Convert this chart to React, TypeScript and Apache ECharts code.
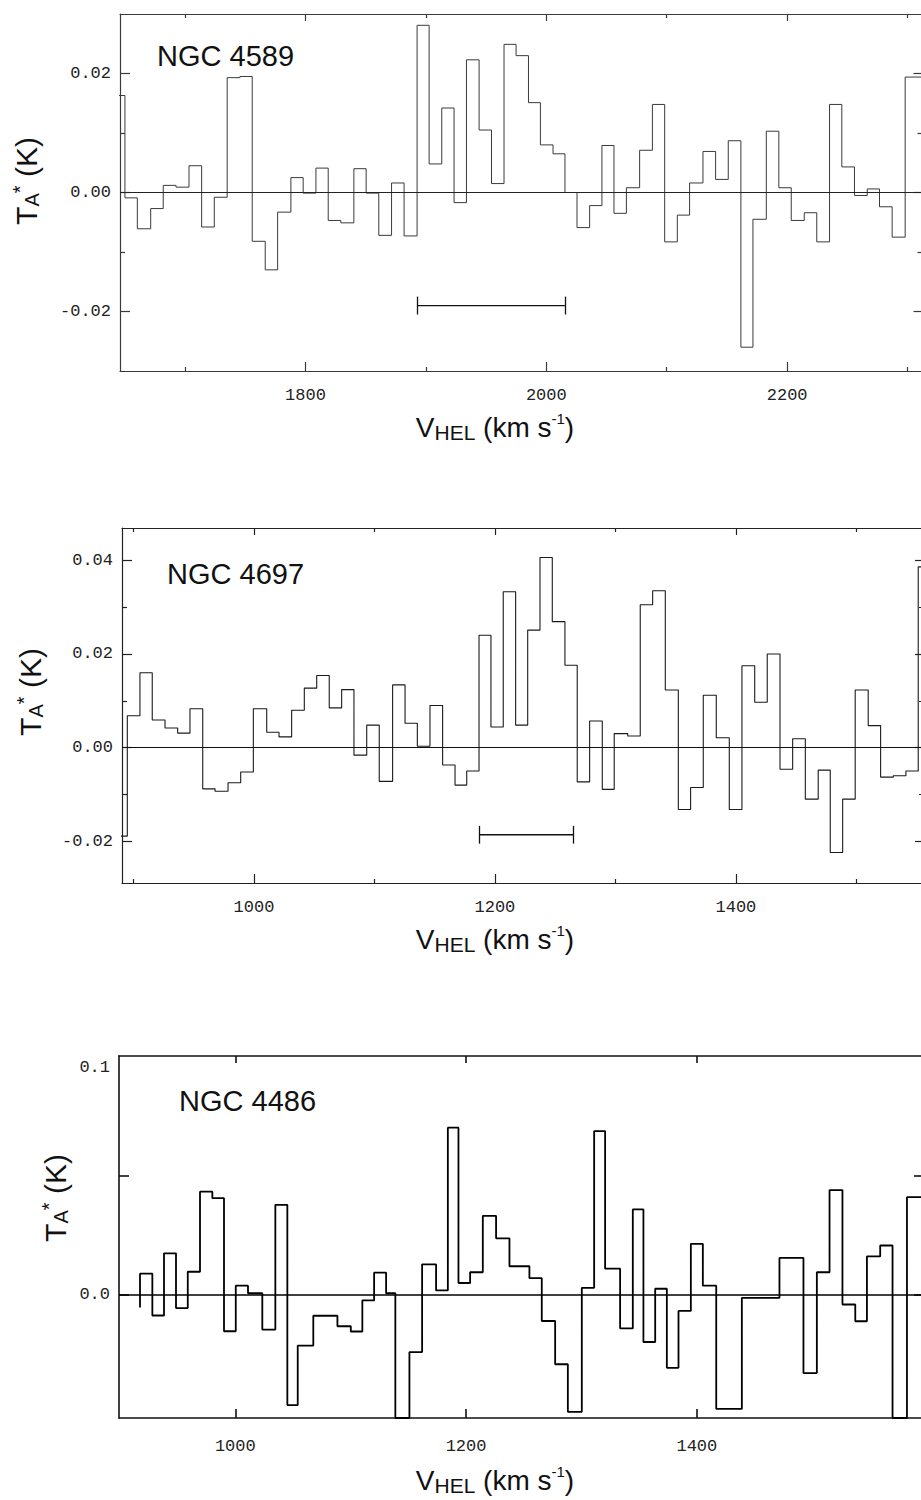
import React, { useEffect, useRef } from "react";
import * as echarts from "echarts";

// ---------------- NGC 4589 ----------------
const N4589_EDGES = [
  1640, 1650.1, 1660.4, 1671.5, 1681.9, 1692.5, 1703.3, 1713.8, 1724.3, 1735.0,
  1745.6, 1755.8, 1766.6, 1776.9, 1787.9, 1798.1, 1808.7, 1818.9, 1829.4, 1840.2,
  1850.4, 1860.9, 1871.5, 1881.9, 1892.7, 1902.7, 1913.2, 1923.4, 1933.7, 1944.2,
  1954.5, 1964.9, 1974.9, 1985.2, 1995.1, 2005.6, 2015.5, 2025.5, 2036.0, 2046.2,
  2056.2, 2066.5, 2077.5, 2088.1, 2098.3, 2108.8, 2119.0, 2130.1, 2140.6, 2151.1,
  2161.6, 2171.6, 2182.7, 2193.1, 2203.4, 2214.2, 2224.6, 2235.2, 2245.4, 2255.9,
  2266.5, 2276.7, 2287.2, 2298.0, 2312,
];
const N4589_TA = [
  0.0163, -0.0009, -0.0061, -0.0027, 0.0012, 0.0009, 0.0045, -0.0058, -0.0008, 0.0193,
  0.0195, -0.0082, -0.013, -0.0033, 0.0025, -0.0001, 0.0041, -0.0047, -0.0051, 0.004,
  -0.0001, -0.0072, 0.0016, -0.0073, 0.0281, 0.0048, 0.0142, -0.0017, 0.0223, 0.0105,
  0.0015, 0.0249, 0.023, 0.0151, 0.008, 0.0065, 0.0, -0.0059, -0.0022, 0.0079,
  -0.0035, 0.0008, 0.0071, 0.0148, -0.0083, -0.0038, 0.0016, 0.0069, 0.0022, 0.0087,
  -0.026, -0.0045, 0.0103, 0.0008, -0.0047, -0.0034, -0.0083, 0.0148, 0.0043, -0.0005,
  0.0006, -0.0024, -0.0075, 0.0194,
];
const N4589_BAR_V = [1892.7, 2015.4];
const N4589_BAR_TA = [-0.019];
const N4589_BAR_CAP = [0.0015];
const N4589_X_MAJOR = [1800, 2000, 2200];
const N4589_X_MINOR = [1700, 1900, 2100, 2300];
const N4589_Y_MAJOR = [-0.02, 0, 0.02];
const N4589_Y_MINOR = [-0.01, 0.01];

// ---------------- NGC 4697 ----------------
const N4697_EDGES = [
  880, 894.9, 905.4, 915.6, 926.2, 936.7, 946.9, 957.5, 967.7, 978.5,
  989.0, 999.5, 1010.6, 1020.8, 1031.3, 1041.8, 1052.1, 1062.5, 1072.8, 1083.0,
  1093.6, 1104.0, 1115.1, 1125.4, 1135.6, 1146.1, 1156.6, 1166.9, 1176.6, 1186.8,
  1196.7, 1206.9, 1217.2, 1227.2, 1237.4, 1247.6, 1258.1, 1268.3, 1278.6, 1289.1,
  1299.0, 1310.2, 1320.6, 1330.9, 1341.4, 1352.2, 1362.4, 1372.9, 1383.7, 1394.5,
  1405.0, 1415.6, 1426.0, 1436.6, 1447.1, 1457.6, 1468.3, 1478.3, 1488.6, 1499.0,
  1509.8, 1520.1, 1530.6, 1541.1, 1551.3, 1565,
];
const N4697_TA = [
  -0.0189, 0.0068, 0.016, 0.0059, 0.0042, 0.0031, 0.0083, -0.0088, -0.0093, -0.0075,
  -0.0052, 0.0083, 0.0033, 0.0023, 0.008, 0.0127, 0.0154, 0.0085, 0.0124, -0.0016,
  0.0048, -0.0072, 0.0134, 0.0052, 0.0003, 0.009, -0.0037, -0.008, -0.005, 0.024,
  0.0044, 0.0333, 0.0048, 0.0251, 0.0406, 0.0269, 0.0176, -0.0073, 0.0057, -0.0089,
  0.003, 0.0025, 0.0305, 0.0335, 0.0123, -0.0132, -0.0085, 0.0112, 0.0021, -0.0132,
  0.0175, 0.0097, 0.02, -0.0046, 0.0019, -0.011, -0.0048, -0.0224, -0.011, 0.0123,
  0.0047, -0.0063, -0.006, -0.005, 0.0386,
];
const N4697_BAR_V = [1187.0, 1265.3];
const N4697_BAR_TA = [-0.0186];
const N4697_BAR_CAP = [0.0019];
const N4697_X_MAJOR = [1000, 1200, 1400];
const N4697_X_MINOR = [900, 1100, 1300, 1500];
const N4697_Y_MAJOR = [-0.02, 0, 0.02, 0.04];
const N4697_Y_MINOR = [-0.01, 0.01, 0.03];

// ---------------- NGC 4486 ----------------
const N4486_EDGES = [
  917.4, 917.4, 928.1, 938.2, 948.6, 958.8, 969.4, 980.1, 990.2, 1000.4,
  1011.0, 1023.4, 1034.7, 1045.1, 1054.1, 1067.6, 1078.0, 1088.5, 1100.1, 1110.1,
  1120.3, 1130.7, 1138.7, 1150.9, 1161.9, 1174.0, 1184.2, 1193.4, 1203.5, 1214.5,
  1226.0, 1237.6, 1246.2, 1254.9, 1265.6, 1277.2, 1288.2, 1300.3, 1311.0, 1320.5,
  1333.5, 1344.5, 1353.7, 1363.9, 1374.0, 1384.1, 1394.8, 1405.2, 1416.8, 1427.8,
  1439.0, 1450.0, 1460.7, 1471.6, 1482.0, 1492.4, 1504.0, 1515.0, 1526.2, 1537.3,
  1547.4, 1558.9, 1569.6, 1582.1, 1600,
];
const N4486_TA = [
  -0.0053, 0.0089, -0.0086, 0.0174, -0.0055, 0.0097, 0.0432, 0.0405, -0.0152, 0.0039,
  0.0007, -0.0145, 0.0377, -0.0461, -0.0212, -0.0087, -0.0087, -0.0131, -0.0153, -0.0023,
  0.0093, 0.0007, -0.0515, -0.0239, 0.0128, 0.0019, 0.07, 0.005, 0.0095, 0.0331,
  0.0237, 0.012, 0.012, 0.007, -0.0109, -0.029, -0.0489, 0.003, 0.0686, 0.011,
  -0.014, 0.0358, -0.0197, 0.0026, -0.0305, -0.0067, 0.0214, 0.0039, -0.0477, -0.0477,
  -0.0012, -0.0012, -0.0012, 0.0155, 0.0155, -0.0327, 0.0095, 0.0439, -0.004, -0.011,
  0.0161, 0.0207, -0.0515, 0.0409,
];
const N4486_X_MAJOR = [1000, 1200, 1400];
const N4486_Y_TICKS = [0, 0.05];
const N4486_Y_LABELS = [0];
const N4486_Y_TOP_LABEL = [0.1];

const MONO = "'Liberation Mono', 'DejaVu Sans Mono', monospace";
const SANS = "'Liberation Sans', Arial, Helvetica, sans-serif";

function stepData(edges: number[], vals: number[]) {
  const d: number[][] = vals.map((t, i) => [edges[i], t]);
  d.push([edges[edges.length - 1], vals[vals.length - 1]]);
  return d;
}

const PANELS: any[] = [
  {
    name: "NGC 4589",
    grid: { left: 120, top: 14, width: 802.5, height: 357 },
    xMin: 1646, xMax: 2312.4, yMin: -0.03, yMax: 0.03,
    xMajor: N4589_X_MAJOR, xMinor: N4589_X_MINOR,
    yMajor: N4589_Y_MAJOR, yMinor: N4589_Y_MINOR, yLabels: N4589_Y_MAJOR, yTopLabel: null,
    digits: 2, xLabelMargin: 16,
    edges: N4589_EDGES, vals: N4589_TA,
    bar: { v: N4589_BAR_V, t: N4589_BAR_TA[0], cap: N4589_BAR_CAP[0] },
    line: { color: "#3a3a3a", width: 1 }, frame: { color: "#3a3a3a", width: 1.2 },
    zero: { color: "#222", width: 1.2 },
    titleX: 157, titleY: 56,
    xTitleY: 427, yTitleX: 26, yTitleY: 181,
  },
  {
    name: "NGC 4697",
    grid: { left: 122, top: 528, width: 802, height: 355 },
    xMin: 890.5, xMax: 1556.1, yMin: -0.0289, yMax: 0.0469,
    xMajor: N4697_X_MAJOR, xMinor: N4697_X_MINOR,
    yMajor: N4697_Y_MAJOR, yMinor: N4697_Y_MINOR, yLabels: N4697_Y_MAJOR, yTopLabel: null,
    digits: 2, xLabelMargin: 16,
    edges: N4697_EDGES, vals: N4697_TA,
    bar: { v: N4697_BAR_V, t: N4697_BAR_TA[0], cap: N4697_BAR_CAP[0] },
    line: { color: "#1a1a1a", width: 1.1 }, frame: { color: "#222", width: 1.2 },
    zero: { color: "#111", width: 1.2 },
    titleX: 167, titleY: 574,
    xTitleY: 939, yTitleX: 30, yTitleY: 692,
  },
  {
    name: "NGC 4486",
    grid: { left: 119, top: 1056, width: 804, height: 362 },
    xMin: 899.2, xMax: 1596, yMin: -0.0515, yMax: 0.1,
    xMajor: N4486_X_MAJOR, xMinor: [],
    yMajor: N4486_Y_TICKS, yMinor: [], yLabels: N4486_Y_LABELS, yTopLabel: N4486_Y_TOP_LABEL,
    digits: 1, xLabelMargin: 20,
    edges: N4486_EDGES, vals: N4486_TA,
    bar: null,
    line: { color: "#000", width: 1.8 }, frame: { color: "#111", width: 1.6 },
    zero: { color: "#000", width: 1.5 },
    titleX: 179, titleY: 1101,
    xTitleY: 1480, yTitleX: 55, yTitleY: 1198,
  },
];

function axBase(g: number, min: number, max: number) {
  return {
    type: "value",
    gridIndex: g,
    min,
    max,
    silent: true,
    splitLine: { show: false },
    splitArea: { show: false },
    axisLine: { show: false, onZero: false },
    axisTick: { show: false },
    axisLabel: { show: false },
    axisPointer: { show: false },
  };
}

function tick(values: number[], length: number, frame: any) {
  return {
    show: true,
    inside: true,
    length,
    customValues: values,
    lineStyle: { color: frame.color, width: frame.width },
  };
}

function buildOption() {
  const grid: any[] = [];
  const xAxis: any[] = [];
  const yAxis: any[] = [];
  const series: any[] = [];
  const graphic: any[] = [];

  PANELS.forEach((p, g) => {
    grid.push({
      ...p.grid,
      show: false,
      containLabel: false,
      outerBoundsMode: "none",
    });
    const line = { show: true, onZero: false, lineStyle: { color: p.frame.color, width: p.frame.width } };
    const labelStyle = { color: "#222", fontFamily: MONO, fontSize: 17 };

    const xi = xAxis.length;
    xAxis.push({
      ...axBase(g, p.xMin, p.xMax),
      position: "bottom",
      axisLine: line,
      axisTick: tick(p.xMajor, 9, p.frame),
      axisLabel: {
        show: true,
        customValues: p.xMajor,
        margin: p.xLabelMargin,
        ...labelStyle,
        formatter: (v: number) => String(Math.round(v)),
      },
    });
    xAxis.push({ ...axBase(g, p.xMin, p.xMax), position: "top", axisLine: line, axisTick: tick(p.xMajor, 7, p.frame) });
    if (p.xMinor.length) {
      xAxis.push({ ...axBase(g, p.xMin, p.xMax), position: "bottom", axisTick: tick(p.xMinor, 4, p.frame) });
      xAxis.push({ ...axBase(g, p.xMin, p.xMax), position: "top", axisTick: tick(p.xMinor, 4, p.frame) });
    }

    const yi = yAxis.length;
    yAxis.push({
      ...axBase(g, p.yMin, p.yMax),
      position: "left",
      axisLine: line,
      axisTick: tick(p.yMajor, 10, p.frame),
      axisLabel: {
        show: true,
        customValues: p.yLabels,
        margin: 9,
        ...labelStyle,
        formatter: (v: number) => v.toFixed(p.digits),
      },
    });
    yAxis.push({ ...axBase(g, p.yMin, p.yMax), position: "right", axisLine: line, axisTick: tick(p.yMajor, 9, p.frame) });
    if (p.yMinor.length) {
      yAxis.push({ ...axBase(g, p.yMin, p.yMax), position: "left", axisTick: tick(p.yMinor, 5, p.frame) });
      yAxis.push({ ...axBase(g, p.yMin, p.yMax), position: "right", axisTick: tick(p.yMinor, 5, p.frame) });
    }
    if (p.yTopLabel) {
      yAxis.push({
        ...axBase(g, p.yMin, p.yMax),
        position: "left",
        axisLabel: {
          show: true,
          customValues: p.yTopLabel,
          margin: 9,
          verticalAlign: "top",
          padding: [3, 0, 0, 0],
          ...labelStyle,
          formatter: (v: number) => v.toFixed(p.digits),
        },
      });
    }

    series.push({
      type: "line",
      name: p.name,
      xAxisIndex: xi,
      yAxisIndex: yi,
      data: stepData(p.edges, p.vals),
      step: "end",
      symbol: "none",
      showSymbol: false,
      clip: true,
      silent: true,
      animation: false,
      lineStyle: { color: p.line.color, width: p.line.width },
      itemStyle: { color: p.line.color },
      emphasis: { disabled: true },
      markLine: {
        silent: true,
        animation: false,
        symbol: ["none", "none"],
        label: { show: false },
        emphasis: { disabled: true },
        lineStyle: { color: p.zero.color, width: p.zero.width, type: "solid" },
        data: [{ yAxis: 0 }],
      },
    });

    if (p.bar) {
      const b = p.bar;
      series.push({
        type: "line",
        name: p.name + " range",
        xAxisIndex: xi,
        yAxisIndex: yi,
        data: b.v.map((v: number) => [v, b.t]),
        symbol: "none",
        showSymbol: false,
        silent: true,
        animation: false,
        lineStyle: { color: "#111", width: 1.3 },
        emphasis: { disabled: true },
        markLine: {
          silent: true,
          animation: false,
          symbol: ["none", "none"],
          label: { show: false },
          emphasis: { disabled: true },
          lineStyle: { color: "#111", width: 1.3, type: "solid" },
          data: b.v.map((v: number) => [
            { coord: [v, b.t - b.cap] },
            { coord: [v, b.t + b.cap] },
          ]),
        },
      });
    }

    // panel title
    graphic.push({
      type: "text",
      x: p.titleX,
      y: p.titleY,
      silent: true,
      style: {
        text: p.name,
        fill: "#111",
        fontFamily: SANS,
        fontSize: 29,
        align: "left",
        verticalAlign: "middle",
      },
    });

    // x-axis title: V_HEL (km s^-1)
    graphic.push({
      type: "text",
      x: 495,
      y: p.xTitleY,
      silent: true,
      style: {
        text: "{m|V}{s|HEL}{m| (km s}{p|-1}{m|)}",
        align: "center",
        verticalAlign: "middle",
        rich: {
          m: { fontFamily: SANS, fontSize: 28, lineHeight: 32, fill: "#111" },
          s: { fontFamily: SANS, fontSize: 21, lineHeight: 18, verticalAlign: "bottom", fill: "#111" },
          p: { fontFamily: SANS, fontSize: 15, lineHeight: 24, verticalAlign: "top", fill: "#111" },
        },
      },
    });

    // y-axis title: T_A^* (K)
    graphic.push({
      type: "text",
      x: p.yTitleX,
      y: p.yTitleY,
      rotation: Math.PI / 2,
      silent: true,
      style: {
        text: "{m|T}{s|A}{p|*}{m| (K)}",
        align: "center",
        verticalAlign: "middle",
        rich: {
          m: { fontFamily: SANS, fontSize: 30, lineHeight: 32, fill: "#111" },
          s: { fontFamily: SANS, fontSize: 20, lineHeight: 12, verticalAlign: "bottom", fill: "#111" },
          p: { fontFamily: SANS, fontSize: 20, lineHeight: 28, verticalAlign: "top", fill: "#111" },
        },
      },
    });
  });

  return {
    animation: false,
    backgroundColor: "#ffffff",
    grid,
    xAxis,
    yAxis,
    series,
    graphic: { elements: graphic },
  };
}

export default function App() {
  const ref = useRef<HTMLDivElement>(null);
  useEffect(() => {
    if (!ref.current) return;
    const chart = echarts.init(ref.current, undefined, { renderer: "svg" });
    chart.setOption(buildOption() as any);
    return () => chart.dispose();
  }, []);
  return (
    <div
      ref={ref}
      style={{ position: "absolute", left: 0, top: 0, width: 921, height: 1500, background: "#fff" }}
    />
  );
}
